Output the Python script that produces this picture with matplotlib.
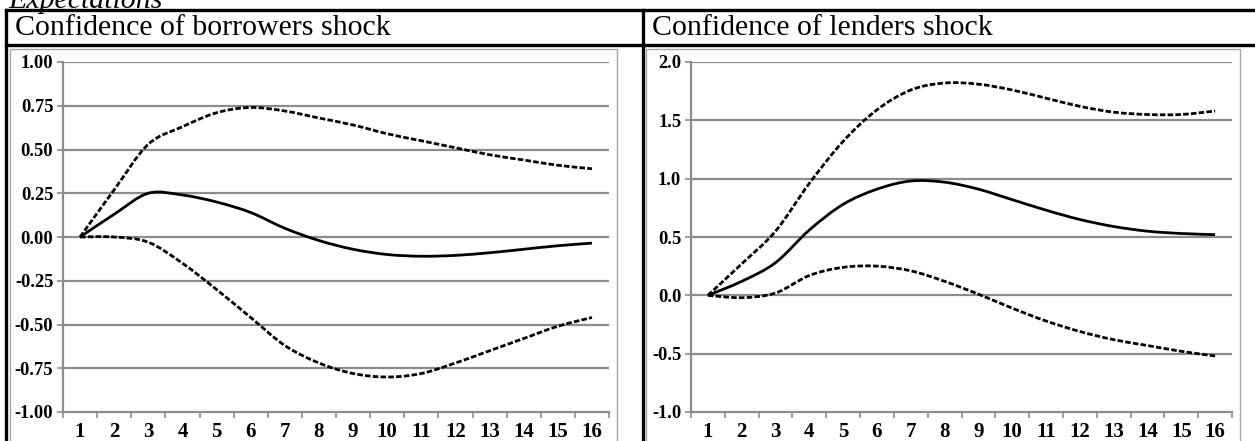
import numpy as np
import matplotlib
matplotlib.use("Agg")
import matplotlib.pyplot as plt
from matplotlib.path import Path
from matplotlib.patches import PathPatch, Rectangle
from matplotlib.lines import Line2D

# Impulse responses of expectations, horizons 1..16
periods = list(range(1, 17))

borrowers_mid = [0.00, 0.13, 0.25, 0.24, 0.20, 0.14, 0.05, -0.02, -0.07, -0.10,
                 -0.11, -0.105, -0.09, -0.07, -0.05, -0.035]
borrowers_hi = [0.00, 0.27, 0.53, 0.63, 0.71, 0.74, 0.72, 0.68, 0.64, 0.59,
                0.55, 0.51, 0.47, 0.44, 0.41, 0.39]
borrowers_lo = [0.00, 0.00, -0.03, -0.15, -0.30, -0.46, -0.62, -0.72, -0.78, -0.80,
                -0.78, -0.72, -0.65, -0.58, -0.51, -0.46]

lenders_mid = [0.00, 0.12, 0.28, 0.56, 0.78, 0.91, 0.98, 0.97, 0.91, 0.82,
               0.73, 0.65, 0.59, 0.55, 0.53, 0.52]
lenders_hi = [0.00, 0.27, 0.55, 0.96, 1.32, 1.59, 1.76, 1.82, 1.81, 1.76,
              1.69, 1.62, 1.57, 1.55, 1.55, 1.58]
lenders_lo = [0.00, -0.02, 0.02, 0.17, 0.24, 0.25, 0.21, 0.12, 0.01, -0.11,
              -0.22, -0.31, -0.38, -0.43, -0.48, -0.52]

borrowers_ticks = [-1.00, -0.75, -0.50, -0.25, 0.00, 0.25, 0.50, 0.75, 1.00]
lenders_ticks = [-1.0, -0.5, 0.0, 0.5, 1.0, 1.5, 2.0]

section_title = "Expectations"
panel_titles = ["Confidence of borrowers shock", "Confidence of lenders shock"]

plt.rcParams["font.family"] = ["Liberation Serif", "DejaVu Serif"]

W, H = 1255, 441
fig = plt.figure(figsize=(W / 100, H / 100), dpi=100)

GRID = "#8c8c8c"


def fx(px):
    return px / W


def fy(py):
    return 1 - py / H


def smooth_path(xs, ys):
    """Cubic Bezier path through the points (Excel-style smoothed line)."""
    xs = np.asarray(xs, float)
    ys = np.asarray(ys, float)
    n = len(xs)
    verts = [(xs[0], ys[0])]
    codes = [Path.MOVETO]
    for i in range(n - 1):
        i0 = max(i - 1, 0)
        i3 = min(i + 2, n - 1)
        c1 = (xs[i] + (xs[i + 1] - xs[i0]) / 6, ys[i] + (ys[i + 1] - ys[i0]) / 6)
        c2 = (xs[i + 1] - (xs[i3] - xs[i]) / 6, ys[i + 1] - (ys[i3] - ys[i]) / 6)
        verts += [c1, c2, (xs[i + 1], ys[i + 1])]
        codes += [Path.CURVE4] * 3
    return Path(verts, codes)


def draw_series(ax, ys, dashed):
    p = smooth_path(periods, ys)
    patch = PathPatch(p, facecolor="none", edgecolor="black",
                      linewidth=2.0, capstyle="butt", joinstyle="round", zorder=3)
    if dashed:
        patch.set_linestyle((0, (2.0, 0.8)))
    ax.add_patch(patch)


def panel(ax_rect, frame_rect, ticks, fmt, series):
    # light grey chart frame behind the plot
    fl, fr, ft = frame_rect
    fig.add_artist(Rectangle((fx(fl), fy(H + 20)), fx(fr - fl), fy(ft) - fy(H + 20),
                             transform=fig.transFigure, facecolor="white",
                             edgecolor="#a6a6a6", linewidth=1.0, zorder=-5))
    l, r, t, b = ax_rect
    ax = fig.add_axes([fx(l), fy(b), fx(r - l), fy(t) - fy(b)], zorder=2)
    ax.set_facecolor("none")
    ax.set_xlim(0.5, 16.5)
    ax.set_ylim(ticks[0], ticks[-1])
    for s in ("top", "right"):
        ax.spines[s].set_visible(False)
    for s in ("left", "bottom"):
        ax.spines[s].set_color(GRID)
        ax.spines[s].set_linewidth(1.6)
    ax.set_yticks(ticks)
    ax.set_yticklabels([fmt.format(v) for v in ticks], fontweight="bold", fontsize=13.3)
    ax.tick_params(axis="y", length=4, width=1.2, color=GRID, pad=3)
    for v in ticks[1:]:
        ax.axhline(v, color=GRID, linewidth=1.6, zorder=1)
    ax.set_xticks(periods)
    ax.set_xticklabels([str(p) for p in periods], fontweight="bold", fontsize=15)
    ax.tick_params(axis="x", length=0, pad=7)
    ax.set_xticks([p + 0.5 for p in [0] + periods], minor=True)
    ax.tick_params(axis="x", which="minor", length=4, width=1.2, color=GRID)
    mid, hi, lo = series
    draw_series(ax, hi, True)
    draw_series(ax, lo, True)
    draw_series(ax, mid, False)
    return ax


panel((63, 609, 62, 412), (10, 617, 49), borrowers_ticks, "{:.2f}",
      (borrowers_mid, borrowers_hi, borrowers_lo))
panel((691, 1232, 62, 412), (646, 1240, 49), lenders_ticks, "{:.1f}",
      (lenders_mid, lenders_hi, lenders_lo))

# table borders
lw = 2.4
for (x0, y0, x1, y1) in [(6, 10, W + 5, 10), (6, 45, W + 5, 45),
                         (6, 10, 6, H + 5), (643, 10, 643, H + 5)]:
    fig.add_artist(Line2D([fx(x0), fx(x1)], [fy(y0), fy(y1)], color="black",
                          linewidth=lw, transform=fig.transFigure, zorder=5))

fig.text(fx(15), fy(28), panel_titles[0], fontsize=21.5, va="center", ha="left")
fig.text(fx(652), fy(28), panel_titles[1], fontsize=21.5, va="center", ha="left")
fig.text(fx(8), fy(8), section_title, fontsize=21.5, style="italic",
         va="baseline", ha="left")

fig.savefig("out.png", dpi=100)
